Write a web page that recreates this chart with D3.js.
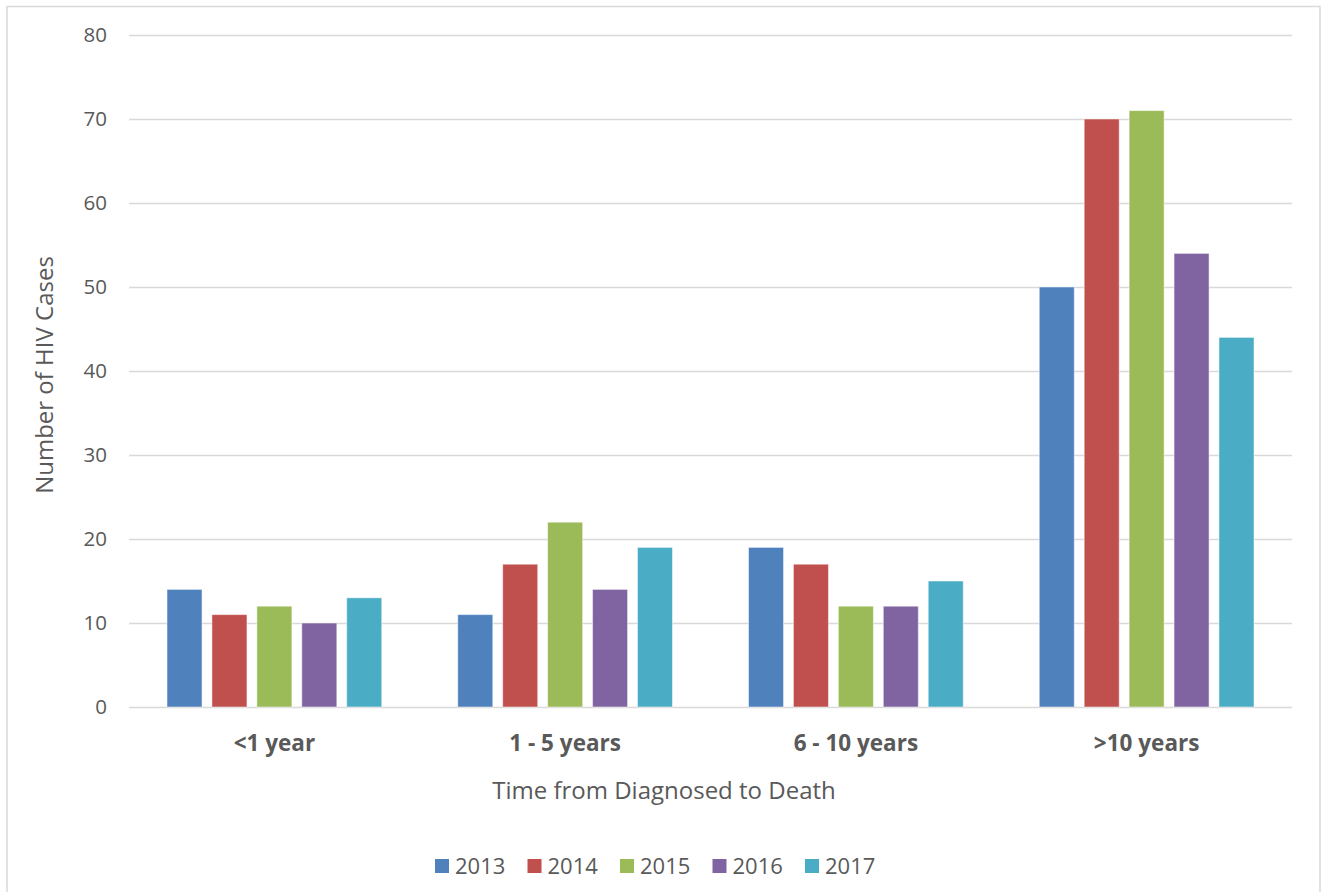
<!DOCTYPE html>
<html lang="en">
<head>
<meta charset="utf-8">
<style>
  html, body {
    margin: 0;
    padding: 0;
    background: #fff;
    width: 100%;
    height: 100%;
    overflow: hidden;
  }
  svg {
    display: block;
    font-family: "Open Sans", sans-serif;
  }
</style>
</head>
<body>
<svg width="1325" height="892"></svg>
<script src="https://d3js.org/d3.v7.min.js"></script>
<script>
// data
const categories = ["<1 year", "1 - 5 years", "6 - 10 years", ">10 years"];
const years = ["2013", "2014", "2015", "2016", "2017"];
const cases = {
  "2013": [14, 11, 19, 50],
  "2014": [11, 17, 17, 70],
  "2015": [12, 22, 12, 71],
  "2016": [10, 14, 12, 54],
  "2017": [13, 19, 15, 44]
};
const yTicks = [0, 10, 20, 30, 40, 50, 60, 70, 80];
const colors = ["#4F81BD", "#C0504D", "#9BBB59", "#8064A2", "#4BACC6"];

const svg = d3.select("svg");
const textColor = "#595959";

// chart border
svg.append("rect")
  .attr("x", 7).attr("y", 6.5)
  .attr("width", 1313).attr("height", 900)
  .attr("fill", "#fff")
  .attr("stroke", "#d9d9d9")
  .attr("stroke-width", 1.5);

const plotLeft = 129, plotRight = 1292, plotTop = 35, plotBottom = 707;

const y = d3.scaleLinear().domain([0, 80]).range([plotBottom, plotTop]);
const x0 = d3.scaleBand().domain(categories).range([plotLeft, plotRight]).paddingInner(0).paddingOuter(0);
const x1 = d3.scaleBand().domain(years).range([38, x0.bandwidth() - 38]).paddingInner(0.22).paddingOuter(0);
const color = d3.scaleOrdinal().domain(years).range(colors);

// gridlines
svg.append("g")
  .selectAll("line")
  .data(yTicks)
  .join("line")
  .attr("x1", plotLeft).attr("x2", plotRight)
  .attr("y1", d => Math.round(y(d)) + 0.5)
  .attr("y2", d => Math.round(y(d)) + 0.5)
  .attr("stroke", "#d9d9d9")
  .attr("stroke-width", 1.5);

// y tick labels
svg.append("g")
  .selectAll("text")
  .data(yTicks)
  .join("text")
  .attr("x", 107)
  .attr("y", d => y(d))
  .attr("dy", "0.35em")
  .attr("text-anchor", "end")
  .attr("font-size", 20.5)
  .attr("fill", textColor)
  .text(d => d);

// bars
const groups = svg.append("g")
  .selectAll("g")
  .data(categories)
  .join("g")
  .attr("transform", d => `translate(${x0(d)},0)`);

groups.selectAll("rect")
  .data((c, i) => years.map(yr => ({ year: yr, value: cases[yr][i] })))
  .join("rect")
  .attr("x", d => x1(d.year))
  .attr("y", d => y(d.value))
  .attr("width", x1.bandwidth())
  .attr("height", d => y(0) - y(d.value))
  .attr("fill", d => color(d.year))
  .attr("stroke", "#fff")
  .attr("stroke-opacity", 0.5)
  .attr("stroke-width", 1);

// category labels
svg.append("g")
  .selectAll("text")
  .data(categories)
  .join("text")
  .attr("x", d => x0(d) + x0.bandwidth() / 2)
  .attr("y", 743)
  .attr("dy", "0.35em")
  .attr("text-anchor", "middle")
  .attr("font-size", 22.5)
  .attr("font-weight", "bold")
  .attr("fill", textColor)
  .text(d => d);

// axis titles
svg.append("text")
  .attr("x", 664)
  .attr("y", 791)
  .attr("dy", "0.35em")
  .attr("text-anchor", "middle")
  .attr("font-size", 24)
  .attr("fill", textColor)
  .text("Time from Diagnosed to Death");

svg.append("text")
  .attr("transform", "translate(45,375) rotate(-90)")
  .attr("dy", "0.35em")
  .attr("text-anchor", "middle")
  .attr("font-size", 24)
  .attr("fill", textColor)
  .text("Number of HIV Cases");

// legend
const legend = svg.append("g")
  .selectAll("g")
  .data(years)
  .join("g")
  .attr("transform", (d, i) => `translate(${435 + i * 92.5},859)`);

legend.append("rect")
  .attr("width", 14).attr("height", 14)
  .attr("fill", d => color(d));

legend.append("text")
  .attr("x", 20)
  .attr("y", 7)
  .attr("dy", "0.35em")
  .attr("font-size", 22)
  .attr("fill", textColor)
  .text(d => d);
</script>
</body>
</html>
